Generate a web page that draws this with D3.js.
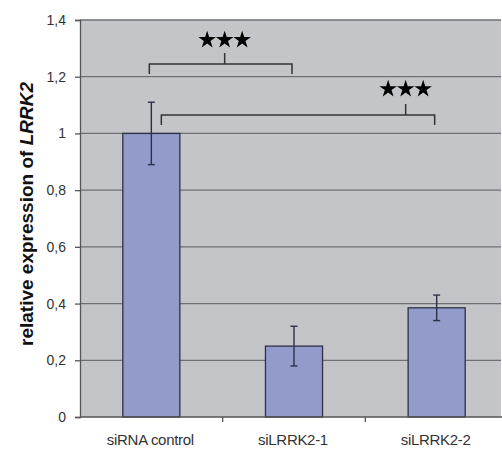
<!DOCTYPE html>
<html><head><meta charset="utf-8">
<script src="https://cdn.jsdelivr.net/npm/d3@7"></script>
<style>body{margin:0;background:#fff}svg{display:block}</style>
</head><body>
<svg id="c" width="502" height="449"></svg>
<script>
const categories = ["siRNA control", "siLRRK2-1", "siLRRK2-2"];
const values = [1.0, 0.25, 0.385];
const errors = [0.11, 0.07, 0.045];
const yTicks = [0, 0.2, 0.4, 0.6, 0.8, 1, 1.2, 1.4];
const brackets = [
  {from: 0, to: 1, level: 1.245, label: "★★★"},
  {from: 0, to: 2, level: 1.065, label: "★★★"}
];

(function () {
const svg = d3.select("#c");
const mL = 80, mT = 20, mB = 417, mR = 508;
const x = d3.scaleBand().domain(categories).range([mL, mR]).paddingInner(0.6).paddingOuter(0.3);
const xb = d3.scaleBand().domain(categories).range([mL, mR]);
const y = d3.scaleLinear().domain([0, 1.4]).range([mB, mT]);

svg.append("rect").attr("x", mL).attr("y", mT).attr("width", 501 - mL).attr("height", mB - mT).attr("fill", "#c3c5c8");

svg.append("g").selectAll("line").data(yTicks.filter(d => d > 0)).join("line")
  .attr("x1", mL).attr("x2", 501).attr("y1", d => y(d)).attr("y2", d => y(d))
  .attr("stroke", "#6e7072").attr("stroke-width", 1.3);

const fmt = d => d3.format("~g")(d).replace(".", ",");
const yAxis = svg.append("g").attr("transform", `translate(${mL},0)`)
  .call(d3.axisLeft(y).tickValues(yTicks).tickFormat(fmt).tickSize(5).tickPadding(9));
yAxis.select(".domain").attr("stroke", "#555").attr("stroke-width", 1.3);
yAxis.selectAll(".tick line").attr("stroke", "#555").attr("stroke-width", 1.3);
yAxis.selectAll("text").attr("font-family", "Liberation Sans, Arial, sans-serif").attr("font-size", 14).attr("fill", "#333");

svg.append("g").selectAll("rect").data(values).join("rect")
  .attr("x", (d, i) => x(categories[i])).attr("width", x.bandwidth())
  .attr("y", d => y(d)).attr("height", d => mB - y(d))
  .attr("fill", "#939bcb").attr("stroke", "#2d3148").attr("stroke-width", 1.3);

const eb = svg.append("g").attr("stroke", "#2d3148").attr("stroke-width", 1.4);
values.forEach((v, i) => {
  const cx = x(categories[i]) + x.bandwidth() / 2;
  eb.append("line").attr("x1", cx).attr("x2", cx).attr("y1", y(v + errors[i])).attr("y2", y(v - errors[i]));
  [v + errors[i], v - errors[i]].forEach(e => eb.append("line").attr("x1", cx - 3.5).attr("x2", cx + 3.5).attr("y1", y(e)).attr("y2", y(e)));
});

// x axis
svg.append("line").attr("x1", mL).attr("x2", 502).attr("y1", mB).attr("y2", mB).attr("stroke", "#555").attr("stroke-width", 1.3);
svg.append("g").selectAll("line").data(categories.slice(1)).join("line")
  .attr("x1", d => xb(d)).attr("x2", d => xb(d)).attr("y1", mB).attr("y2", mB + 5)
  .attr("stroke", "#555").attr("stroke-width", 1.3);
svg.append("g").selectAll("text").data(categories).join("text")
  .attr("x", d => xb(d) + xb.bandwidth() / 2 - 1).attr("y", 445)
  .attr("text-anchor", "middle").attr("font-family", "Liberation Sans, Arial, sans-serif")
  .attr("font-size", 15).attr("letter-spacing", -0.3).attr("fill", "#333").text(d => d);

// y label
const yl = svg.append("text").attr("transform", `translate(33,214) rotate(-90)`)
  .attr("text-anchor", "middle").attr("font-family", "Liberation Sans, Arial, sans-serif")
  .attr("font-size", 19).attr("font-weight", "bold").attr("fill", "#111");
yl.append("tspan").text("relative expression of ");
yl.append("tspan").attr("font-style", "italic").text("LRRK2");

// brackets
const bg = svg.append("g");
brackets.forEach((b, k) => {
  const c1 = x(categories[b.from]) + x.bandwidth() / 2;
  const c2 = x(categories[b.to]) + x.bandwidth() / 2;
  const x1 = k === 1 ? c1 + 10 : c1 - 2;
  const x2 = c2 - 2;
  const yy = y(b.level);
  const drop = 10;
  const mid = k === 0 ? xb(categories[1]) + 2 : c2 - 31;
  bg.append("path").attr("d", `M${x1},${yy + drop}V${yy}H${x2}V${yy + drop}M${mid},${yy}V${yy - 11}`)
    .attr("fill", "none").attr("stroke", "#333").attr("stroke-width", 1.5);
  [-1, 0, 1].forEach(j => {
    bg.append("path").attr("d", d3.symbol(d3.symbolStar, 95)())
      .attr("transform", `translate(${mid + j * 17.5},${yy - (k === 0 ? 24 : 26)})`).attr("fill", "#000");
  });
});
})();
</script>
</body></html>
